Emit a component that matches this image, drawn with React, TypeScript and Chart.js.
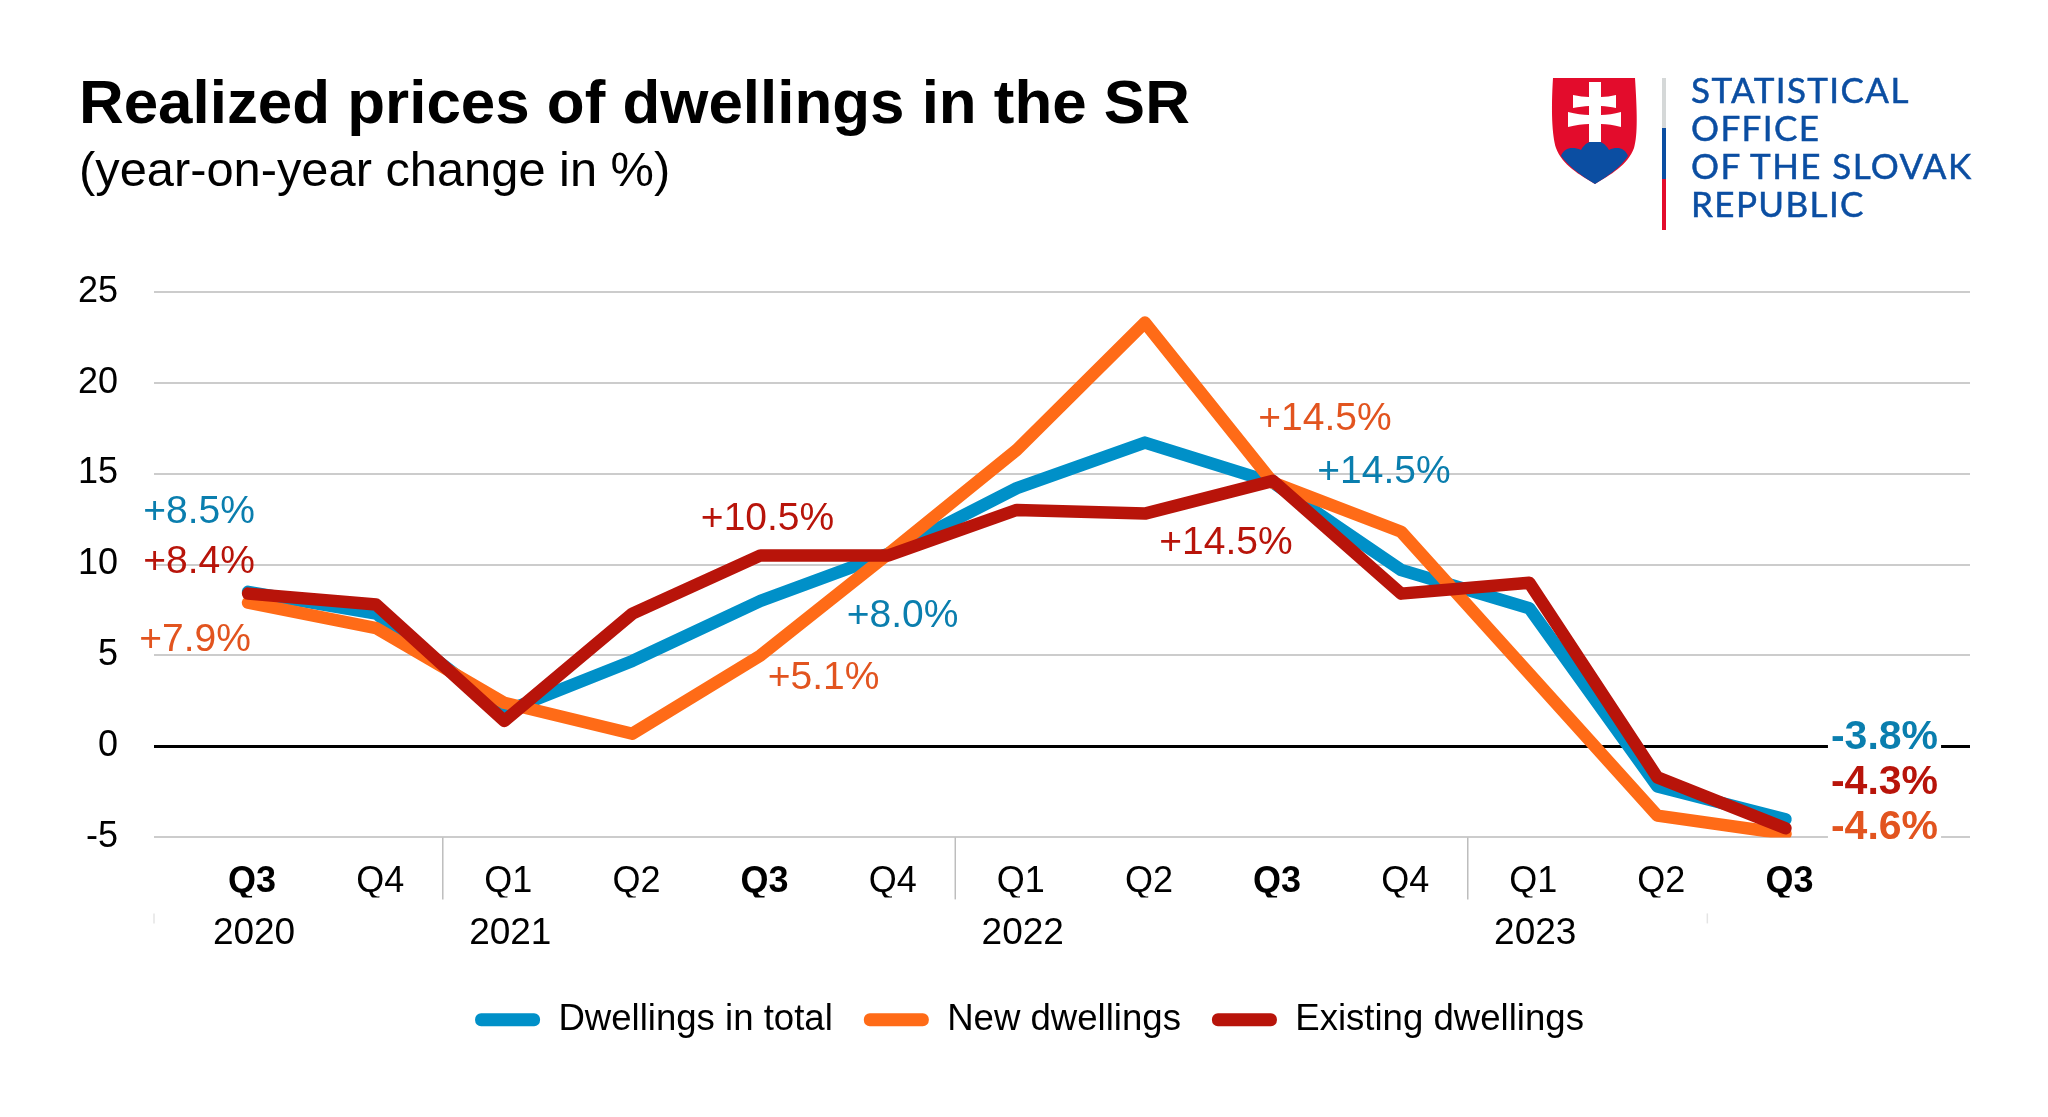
import React, { useEffect, useRef } from "react";
import { Chart, registerables } from "chart.js";

Chart.register(...registerables);

const titleText = "Realized prices of dwellings in the SR";
const subtitleText = "(year-on-year change in %)";
const quarterLabels = ["Q3", "Q4", "Q1", "Q2", "Q3", "Q4", "Q1", "Q2", "Q3", "Q4", "Q1", "Q2", "Q3"];
const yearLabels = ["2020", "2021", "2022", "2023"];
const yearPositions = [0, 2, 6, 10];
const yearDividers = [1.52, 5.52, 9.52];

const totalValues = [8.5, 7.3, 1.9, 4.7, 8.0, 10.6, 14.2, 16.7, 14.5, 9.7, 7.6, -2.2, -4.0];
const newValues = [7.9, 6.5, 2.4, 0.7, 5.0, 10.6, 16.3, 23.3, 14.5, 11.8, 4.0, -3.8, -4.8];
const existingValues = [8.4, 7.8, 1.4, 7.3, 10.5, 10.5, 13.0, 12.8, 14.6, 8.4, 9.0, -1.7, -4.5];

const seriesNames = ["Dwellings in total", "New dwellings", "Existing dwellings"];
const seriesColors = ["#0090C8", "#FF6B17", "#B8140A"];
const labelColors = ["#0A7EAE", "#E2541F", "#B8140A"];

// [series, point index, text, dx, dy, bold]
const callouts: [number, number, string, number, number, boolean][] = [
  [0, 0, "+8.5%", -49, -80, false],
  [2, 0, "+8.4%", -49, -31, false],
  [1, 0, "+7.9%", -53, 38, false],
  [0, 4, "+8.0%", 142, 15, false],
  [1, 4, "+5.1%", 63, 23, false],
  [2, 4, "+10.5%", 7, -36, false],
  [1, 8, "+14.5%", 52, -63, false],
  [0, 8, "+14.5%", 111, -10, false],
  [2, 8, "+14.5%", -47, 62, false],
  [0, 12, "-3.8%", 99, -82, true],
  [2, 12, "-4.3%", 99, -46, true],
  [1, 12, "-4.6%", 99, -6, true],
];

const FONT = '"Liberation Sans", Arial, sans-serif';

const overlayPlugin = {
  id: "overlay",
  afterLayout(chart: any) {
    chart.legend.left += 10;
  },
  beforeDatasetsDraw(chart: any) {
    const { ctx, scales, chartArea } = chart;
    ctx.save();
    ctx.strokeStyle = "#bdbdbd";
    ctx.lineWidth = 1.5;
    yearDividers.forEach((v) => {
      const x = scales.x.getPixelForValue(v);
      ctx.beginPath();
      ctx.moveTo(x, chartArea.bottom);
      ctx.lineTo(x, chartArea.bottom + 62);
      ctx.stroke();
    });
    ctx.strokeStyle = "#e4e4e4";
    [scales.x.min, 11.39].forEach((v) => {
      const x = scales.x.getPixelForValue(v);
      ctx.beginPath();
      ctx.moveTo(x, chartArea.bottom + 76);
      ctx.lineTo(x, chartArea.bottom + 86);
      ctx.stroke();
    });
    ctx.restore();
  },
  afterDatasetsDraw(chart: any) {
    const { ctx } = chart;
    ctx.save();
    ctx.textAlign = "center";
    ctx.textBaseline = "middle";
    callouts.forEach(([s, i, text, dx, dy, bold]) => {
      const pt = chart.getDatasetMeta(s).data[i];
      const x = pt.x + dx;
      const y = pt.y + dy;
      ctx.font = `${bold ? "bold 41px" : "39px"} ${FONT}`;
      if (bold) {
        const w = ctx.measureText(text).width;
        ctx.fillStyle = "#fff";
        ctx.fillRect(x - w / 2 - 3, y - 20, w + 6, 40);
      }
      ctx.fillStyle = labelColors[s];
      ctx.fillText(text, x, y);
    });
    ctx.restore();
  },
};

function Logo() {
  const lines = ["STATISTICAL", "OFFICE", "OF THE SLOVAK", "REPUBLIC"];
  const baselines = [103, 141, 179, 217];
  return (
    <svg width={2048} height={1117} style={{ position: "absolute", left: 0, top: 0, pointerEvents: "none" }}>
      <path d="M1553 78 H1635 C1637 110 1638 135 1634 148 C1628 165 1610 175 1595 184 C1580 175 1562 165 1556 148 C1552 135 1551 110 1553 78 Z" fill="#E30C2C" />
      <path d="M1561 156 C1564 148 1572 146 1581 150 C1585 143 1590 141 1595 141 C1600 141 1605 143 1609 150 C1617 146 1625 148 1628 156 C1620 168 1608 176 1595 184 C1582 176 1570 168 1561 156 Z" fill="#0B4EA2" />
      <path d="M1589 82 H1601 V97 C1606 97 1611 96 1616 95 V108 C1611 107 1606 106 1601 106 V115 C1607 115 1614 114 1621 112 V127 C1614 125 1607 124 1601 124 V142 H1589 V124 C1583 124 1576 125 1568 127 V112 C1576 114 1583 115 1589 115 V106 C1584 106 1579 107 1573 108 V95 C1579 96 1584 97 1589 97 Z" fill="#fff" />
      <rect x={1662} y={78} width={4} height={51} fill="#D5D8D8" />
      <rect x={1662} y={128} width={4} height={51} fill="#0B4EA2" />
      <rect x={1662} y={179} width={4} height={51} fill="#E30C2C" />
      {lines.map((t, i) => (
        <text key={t} x={1691} y={baselines[i]} fontFamily="Lato" fontSize={35} letterSpacing={1.4} fill="#0B4EA2" stroke="#0B4EA2" strokeWidth={0.5}>
          {t}
        </text>
      ))}
    </svg>
  );
}

export default function App() {
  const ref = useRef<HTMLCanvasElement>(null);
  useEffect(() => {
    document.body.style.margin = "0";
    const mk = (label: string, data: number[], color: string, order: number) => ({
      label,
      data: data.map((y, x) => ({ x, y })),
      order,
      borderColor: color,
      backgroundColor: color,
      borderWidth: 12.5,
      pointRadius: 0,
      tension: 0,
      borderCapStyle: "round" as const,
      borderJoinStyle: "round" as const,
    });
    const chart = new Chart(ref.current!, {
      type: "line",
      plugins: [overlayPlugin],
      data: {
        datasets: [
          mk(seriesNames[0], totalValues, seriesColors[0], 3),
          mk(seriesNames[1], newValues, seriesColors[1], 2),
          mk(seriesNames[2], existingValues, seriesColors[2], 1),
        ],
      },
      options: {
        animation: false,
        responsive: false,
        layout: { padding: { left: 79, right: 78, top: 0, bottom: 69 } },
        plugins: {
          title: {
            display: true,
            text: titleText,
            align: "start",
            color: "#000",
            font: { family: FONT, size: 61.9, weight: "bold", lineHeight: 1.2 },
            padding: { top: 68.5, bottom: 0 },
          },
          subtitle: {
            display: true,
            text: subtitleText,
            align: "start",
            color: "#000",
            font: { family: FONT, size: 48.8, weight: "normal", lineHeight: 1.2 },
            padding: { top: 0, bottom: 90.3 },
          },
          legend: {
            display: true,
            position: "bottom",
            labels: {
              boxWidth: 65,
              boxHeight: 13,
              useBorderRadius: true,
              borderRadius: 6,
              color: "#000",
              padding: 31,
              font: { family: FONT, size: 36.6 },
              sort: (a: any, b: any) => a.datasetIndex - b.datasetIndex,
              generateLabels: (c: any) =>
                Chart.defaults.plugins.legend.labels.generateLabels(c).map((l: any) => ({ ...l, lineWidth: 0 })),
            },
          },
          tooltip: { enabled: false },
        },
        scales: {
          x: {
            type: "linear",
            min: -0.734,
            max: 13.44,
            position: "bottom",
            grid: { display: false },
            border: { display: false },
            afterBuildTicks: (s: any) => {
              s.ticks = quarterLabels.map((_, i) => ({ value: i }));
            },
            afterFit: (s: any) => {
              s.height = 60;
            },
            ticks: {
              autoSkip: false,
              maxRotation: 0,
              padding: 15,
              labelOffset: 4,
              color: "#000",
              font: (c: any) => ({ family: FONT, size: 36, weight: quarterLabels[c.index] === "Q3" ? "bold" : "normal" }),
              callback: (v: any) => quarterLabels[v],
            },
          },
          x2: {
            type: "linear",
            axis: "x",
            min: -0.734,
            max: 13.44,
            position: "bottom",
            grid: { display: false },
            border: { display: false },
            afterBuildTicks: (s: any) => {
              s.ticks = yearPositions.map((value) => ({ value }));
            },
            afterFit: (s: any) => {
              s.height = 73;
            },
            ticks: {
              autoSkip: false,
              maxRotation: 0,
              padding: 6,
              labelOffset: 6,
              color: "#000",
              font: { family: FONT, size: 37 },
              callback: (v: any) => yearLabels[yearPositions.indexOf(v)],
            },
          },
          y: {
            min: -5,
            max: 25,
            afterFit: (s: any) => {
              s.width = 75;
            },
            grid: {
              drawTicks: false,
              color: (c: any) => (c.tick.value === 0 ? "#000" : "#cccccc"),
              lineWidth: (c: any) => (c.tick.value === 0 ? 3 : 2),
            },
            border: { display: false },
            ticks: {
              stepSize: 5,
              padding: 36,
              color: "#000",
              font: { family: FONT, size: 36 },
            },
          },
        },
      } as any,
    });
    return () => chart.destroy();
  }, []);
  return (
    <div style={{ position: "absolute", left: 0, top: 0, width: 2048, height: 1117, background: "#fff" }}>
      <canvas ref={ref} width={2048} height={1117} style={{ display: "block" }} />
      <Logo />
    </div>
  );
}
